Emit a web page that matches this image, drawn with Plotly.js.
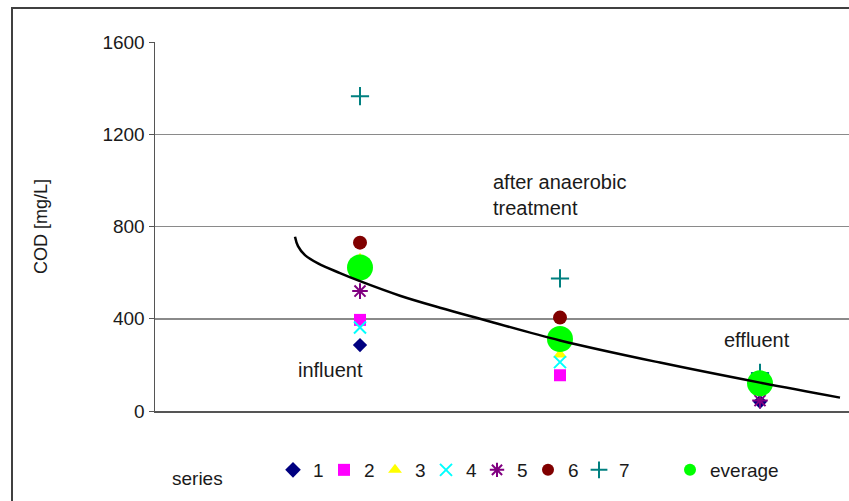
<!DOCTYPE html>
<html>
<head>
<meta charset="utf-8">
<script src="https://cdn.plot.ly/plotly-3.0.1.min.js"></script>
<style>html,body{margin:0;padding:0;background:#fff;}#chart{width:849px;height:501px;}</style>
</head>
<body>
<div id="chart"></div>
<script>
// stage positions: 1 = influent, 2 = after anaerobic treatment, 3 = effluent
const stages = [1, 2, 3];
const stageLabels = ["influent", "after anaerobic<br>treatment", "effluent"];
const seriesNames = ["1", "2", "3", "4", "5", "6", "7"];
const s1 = [286, 285, 40];
const s2 = [395, 155, 125];
const s3 = [660, 245, 130];
const s4 = [362, 212, 120];
const s5 = [520, 300, 45];
const s6 = [730, 405, 135];
const s7 = [1365, 575, 165];
const average = [622, 312, 120];
// trend curve
const trendX = [0.675, 0.69, 0.725, 0.79, 0.9, 1.0, 1.2, 1.4, 1.6, 2.0, 2.5, 3.0, 3.4];
const trendY = [756, 715, 676, 640, 598, 563, 500, 448, 400, 306, 210, 123, 58];
const yTicks = [0, 400, 800, 1200, 1600];

const FONT = "Liberation Sans, Arial, sans-serif";
const TXT = "#1a1a1a";

const seriesData = [s1, s2, s3, s4, s5, s6, s7];
const styles = [
  {symbol: "diamond", color: "#000080", size: 11},
  {symbol: "square", color: "#ff00ff", size: 12},
  {symbol: "triangle-up", color: "#ffff00", size: 12},
  {symbol: "x-thin-open", color: "#00ffff", size: 12, lw: 2},
  {symbol: "asterisk-open", color: "#800080", size: 13, lw: 2},
  {symbol: "circle", color: "#800000", size: 14},
  {symbol: "cross-thin-open", color: "#008080", size: 13, lw: 2}
];

const traces = seriesData.map((vals, i) => {
  const st = styles[i];
  const m = {symbol: st.symbol, color: st.color, size: st.size};
  if (st.lw) m.line = {color: st.color, width: st.lw};
  return {
    type: "scatter", mode: "markers", x: stages, y: vals,
    name: seriesNames[i], marker: m, legend: "legend", cliponaxis: false
  };
});
traces.push({
  type: "scatter", mode: "markers", x: stages, y: average, name: "everage",
  marker: {symbol: "circle", color: "#00ff00", size: 26}, legend: "legend2", cliponaxis: false
});
traces.push({
  type: "scatter", mode: "lines", x: trendX, y: trendY, showlegend: false,
  line: {color: "#000000", width: 2.5, shape: "spline", smoothing: 1}, cliponaxis: false
});

const annPos = [
  {x: 0.68, y: 178},
  {x: 1.655, y: 937},
  {x: 2.81, y: 308}
];
const annotations = stageLabels.map((t, i) => ({
  text: t, x: annPos[i].x, y: annPos[i].y, xref: "x", yref: "y",
  xanchor: "left", yanchor: "middle", align: "left", showarrow: false,
  font: {family: FONT, size: 20, color: TXT}
}));
annotations.push({
  text: "series", xref: "paper", yref: "paper", x: (170 - 155) / 694, y: (411 - 478) / 369,
  xanchor: "left", yanchor: "middle", showarrow: false,
  font: {family: FONT, size: 19, color: TXT}
});

const layout = {
  width: 849, height: 501,
  margin: {l: 155, r: 0, t: 42, b: 90},
  paper_bgcolor: "#ffffff", plot_bgcolor: "#ffffff",
  font: {family: FONT, size: 19, color: TXT},
  showlegend: true,
  xaxis: {
    range: [-0.025, 3.445], showgrid: false, zeroline: false,
    showline: true, linecolor: "#555555", linewidth: 2,
    showticklabels: false, ticks: "", fixedrange: true
  },
  yaxis: {
    range: [0, 1600], tickvals: yTicks, ticktext: yTicks.map(String),
    showgrid: true, gridcolor: "#8a8a8a", gridwidth: 1.5, zeroline: false,
    showline: true, linecolor: "#555555", linewidth: 1.5,
    ticks: "outside", ticklen: 5, tickcolor: "#555555",
    tickfont: {family: FONT, size: 19, color: TXT},
    title: {text: "COD [mg/L]", standoff: 50, font: {family: FONT, size: 18, color: TXT}},
    automargin: false
  },
  legend: {
    orientation: "h", x: (273 - 155) / 694, y: (411 - 470) / 369,
    xanchor: "left", yanchor: "middle", itemsizing: "constant",
    entrywidth: 6, entrywidthmode: "pixels",
    font: {family: FONT, size: 19, color: TXT}, bgcolor: "rgba(0,0,0,0)", borderwidth: 0
  },
  legend2: {
    orientation: "h", x: (670 - 155) / 694, y: (411 - 470) / 369,
    xanchor: "left", yanchor: "middle", itemsizing: "constant",
    font: {family: FONT, size: 19, color: TXT}, bgcolor: "rgba(0,0,0,0)", borderwidth: 0
  },
  shapes: [{
    type: "rect", xref: "paper", yref: "paper",
    x0: (12 - 155) / 694, x1: 1.1, y0: -0.4, y1: (411 - 8) / 369,
    line: {color: "#404040", width: 2}, fillcolor: "rgba(0,0,0,0)", layer: "below"
  }],
  annotations: annotations
};

Plotly.newPlot("chart", traces, layout, {staticPlot: true, displayModeBar: false});
</script>
</body>
</html>
